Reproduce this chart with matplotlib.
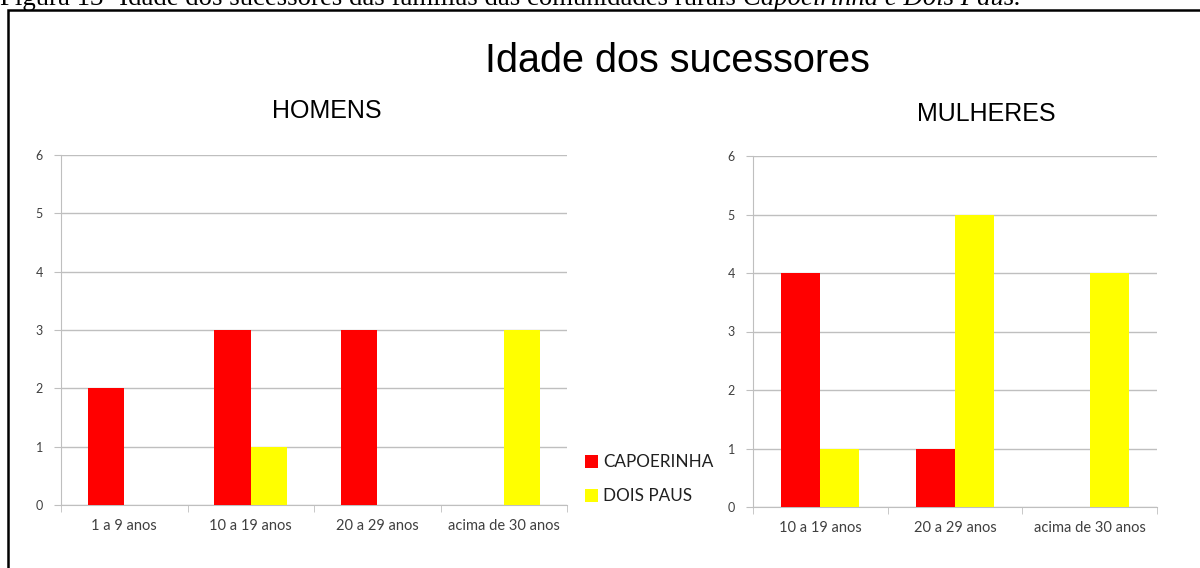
import matplotlib
matplotlib.use("Agg")
import matplotlib.pyplot as plt
from matplotlib.patches import Rectangle
import numpy as np

# Data
main_title = "Idade dos sucessores"
caption_plain = "Figura 13- Idade dos sucessores das famílias das comunidades rurais "
caption_italic = "Capoeirinha e Dois Paus."
series_names = ["CAPOERINHA", "DOIS PAUS"]
colors = ["#FF0000", "#FFFF00"]

homens_title = "HOMENS"
homens_cats = ["1 a 9 anos", "10 a 19 anos", "20 a 29 anos", "acima de 30 anos"]
homens_capoeirinha = [2, 3, 3, 0]
homens_dois_paus = [0, 1, 0, 3]

mulheres_title = "MULHERES"
mulheres_cats = ["10 a 19 anos", "20 a 29 anos", "acima de 30 anos"]
mulheres_capoeirinha = [4, 1, 0]
mulheres_dois_paus = [1, 5, 4]

W, H = 1200, 568
fig = plt.figure(figsize=(W / 100, H / 100), dpi=100)

def px_rect(x0, y0, x1, y1):
    return [x0 / W, 1 - y1 / H, (x1 - x0) / W, (y1 - y0) / H]

tick_font = "Lato"
grid_col = "#BFBFBF"
txt_col = "#404040"

def draw(ax, cats, a, b):
    x = np.arange(len(cats))
    w = 0.29
    ax.bar(x - w / 2, a, width=w, color=colors[0], label=series_names[0], zorder=3)
    ax.bar(x + w / 2, b, width=w, color=colors[1], label=series_names[1], zorder=3)
    ax.set_xlim(-0.5, len(cats) - 0.5)
    ax.set_ylim(0, 6)
    ax.set_yticks(range(0, 7))
    ax.yaxis.grid(True, color=grid_col, linewidth=1.0, zorder=0)
    ax.set_axisbelow(True)
    for s in ["top", "right"]:
        ax.spines[s].set_visible(False)
    ax.spines["left"].set_color(grid_col)
    ax.spines["bottom"].set_color(grid_col)
    ax.set_xticks(x)
    ax.set_xticklabels(cats, fontfamily=tick_font, fontsize=10.5, color=txt_col)
    ax.tick_params(axis="x", length=0, pad=10)
    ax.set_xticks(np.arange(len(cats) + 1) - 0.5, minor=True)
    ax.tick_params(axis="x", which="minor", length=5, color=grid_col)
    ax.tick_params(axis="y", length=5, color=grid_col, labelsize=9, labelcolor=txt_col, pad=8)
    for lab in ax.get_yticklabels():
        lab.set_fontfamily(tick_font)

ax1 = fig.add_axes(px_rect(61, 155, 567, 505))
draw(ax1, homens_cats, homens_capoeirinha, homens_dois_paus)
ax2 = fig.add_axes(px_rect(753, 156, 1157, 507))
draw(ax2, mulheres_cats, mulheres_capoeirinha, mulheres_dois_paus)

# Subplot titles
fig.text(327 / W, 1 - 111 / H, homens_title, ha="center", va="center",
         fontfamily="Liberation Sans", fontsize=18)
fig.text(986 / W, 1 - 114 / H, mulheres_title, ha="center", va="center",
         fontfamily="Liberation Sans", fontsize=18)

# Legend
handles, labels = ax1.get_legend_handles_labels()
fig.legend(handles, labels, loc="upper left", bbox_to_anchor=(570 / W, 1 - 439 / H),
           frameon=False, prop={"family": tick_font, "size": 12.3}, handlelength=0.75,
           handleheight=0.75, handletextpad=0.3, labelspacing=1.05, labelcolor="#202020")

# Main title
fig.text(677 / W, 1 - 61 / H, main_title, ha="center", va="center",
         fontfamily="Liberation Sans", fontsize=28.5)

# Border (left and top)
fig.add_artist(Rectangle((8 / W, -0.05), 1.2, 1 - 10 / H + 0.05, transform=fig.transFigure,
                         fill=False, edgecolor="black", linewidth=1.8))

# Cut-off caption at the top (as in the reference)
t1 = fig.text(0 / W, 1 - 5 / H, caption_plain, ha="left", va="baseline",
              fontfamily="Liberation Serif", fontsize=19.3)
fig.canvas.draw()
bb = t1.get_window_extent()
fig.text(bb.x1 / W, 1 - 5 / H, caption_italic, ha="left", va="baseline",
         fontfamily="Liberation Serif", fontsize=19.3, style="italic")

fig.savefig("out.png", dpi=100)
